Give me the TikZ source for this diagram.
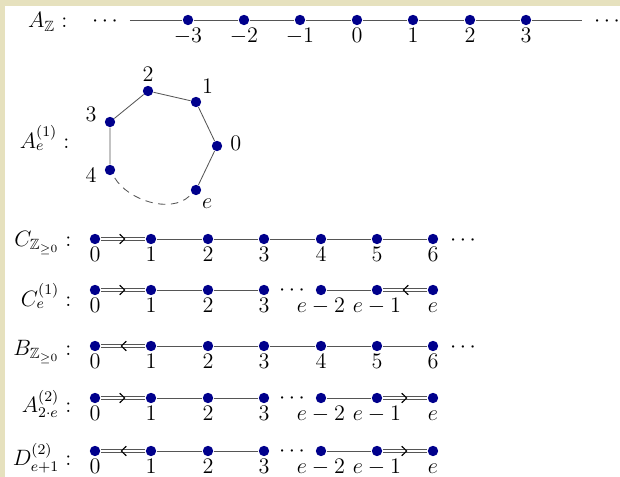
\documentclass[tikz,border=0pt]{standalone}
\usepackage{amssymb}
\usetikzlibrary{decorations.markings}
\definecolor{dotblue}{RGB}{0,0,140}
\definecolor{stripbeige}{RGB}{230,225,190}
\definecolor{edgegray}{RGB}{85,85,85}
\begin{document}
\begin{tikzpicture}[
  x=0.54pt,y=-0.54pt,line width=0.45pt,font=\large,
  dot/.style={circle,fill=dotblue,inner sep=0pt,minimum size=5.6pt},
  every label/.style={inner sep=1pt,text height=1.5ex,text depth=0.25ex},
  label distance=1.5pt,
  etc/.style={inner sep=0pt},
  row name/.style={anchor=east},
  edge/.style={draw=edgegray},
  dbl arrow/.style={draw=edgegray,double,double distance=1.4pt,
    postaction={decorate,decoration={markings,mark=at position 0.5 with {
      \pgfsetlinewidth{0.6pt}\pgfsetstrokecolor{black}
      \pgfpathmoveto{\pgfpoint{-1.8pt}{2.6pt}}
      \pgfpathlineto{\pgfpoint{0.9pt}{0pt}}
      \pgfpathlineto{\pgfpoint{-1.8pt}{-2.6pt}}
      \pgfusepath{stroke}}}}}
]
  \useasboundingbox (0,0) rectangle (620,477);
  \fill[white] (0,0) rectangle (620,477);
  \fill[stripbeige] (0,0) rectangle (620,6);
  \fill[stripbeige] (0,0) rectangle (5,477);

  % A_Z: the two-sided line
  \node[row name] (nz) at (74,22) {$A_{\mathbb{Z}}:$};
  \node[etc] (zdl) at (105,22) {$\cdots$};
  \node[etc] (zdr) at (607,22) {$\cdots$};
  \coordinate (zl) at (130,20);
  \coordinate (zr) at (582,20);
  \foreach \i/\x/\t in {1/188/-3,2/244/-2,3/300/-1,4/357/0,5/413/1,6/470/2,7/526/3}
    \node[dot,label=below:$\t$] (z\i) at (\x,20) {};
  \draw[edge] (zl) -- (z1) -- (z2) -- (z3) -- (z4) -- (z5) -- (z6) -- (z7) -- (zr);

  % A_e^(1): the cycle
  \node[row name] (na) at (76,138) {$A^{(1)}_{e}:$};
  \node[dot,label={[label distance=0pt]above:$2$}] (h2) at (148,91) {};
  \node[dot,label={[label distance=0pt]above right:$1$}] (h1) at (196,102) {};
  \node[dot,label={[label distance=3pt]right:$0$}] (h0) at (217,146) {};
  \node[dot,label={[label distance=0pt]below right:$e$}] (he) at (196,190) {};
  \node[dot,label={[label distance=3pt,yshift=-4pt]left:$4$}] (h4) at (110,170) {};
  \node[dot,label={[label distance=3pt,yshift=3pt]left:$3$}] (h3) at (110,122) {};
  \draw[edge] (he) -- (h0) -- (h1) -- (h2) -- (h3) -- (h4);
  \draw[edge,dashed,dash pattern=on 4pt off 3pt,shorten <=2pt,shorten >=2pt]
    (h4) .. controls (128,200) and (170,214) .. (he);

  % C_{Z>=0}
  \node[row name] (nc) at (78,243) {$C_{\mathbb{Z}_{\geq 0}}:$};
  \foreach \i/\x in {0/95,1/151,2/208,3/264,4/321,5/377,6/433}
    \node[dot,label=below:$\i$] (c\i) at (\x,239) {};
  \node[etc] (cd) at (463,241) {$\cdots$};
  \draw[dbl arrow] (c0) -- (c1);
  \draw[edge] (c1) -- (c2) -- (c3) -- (c4) -- (c5) -- (c6);

  % C_e^(1)
  \node[row name] (nce) at (78,296) {$C^{(1)}_{e}:$};
  \foreach \i/\x/\t in {0/95/0,1/151/1,2/208/2,3/264/3,4/321/e-2,5/377/e-1,6/433/e}
    \node[dot,label=below:$\t$] (k\i) at (\x,290) {};
  \node[etc] (kd) at (292,291) {$\cdots$};
  \draw[dbl arrow] (k0) -- (k1);
  \draw[edge] (k1) -- (k2) -- (k3);
  \draw[edge] (k4) -- (k5);
  \draw[dbl arrow] (k6) -- (k5);

  % B_{Z>=0}
  \node[row name] (nb) at (78,352) {$B_{\mathbb{Z}_{\geq 0}}:$};
  \foreach \i/\x in {0/95,1/151,2/208,3/264,4/321,5/377,6/433}
    \node[dot,label=below:$\i$] (b\i) at (\x,346) {};
  \node[etc] (bd) at (463,348) {$\cdots$};
  \draw[dbl arrow] (b1) -- (b0);
  \draw[edge] (b1) -- (b2) -- (b3) -- (b4) -- (b5) -- (b6);

  % A_{2e}^(2)
  \node[row name] (nt) at (78,404) {$A^{(2)}_{2\cdot e}:$};
  \foreach \i/\x/\t in {0/95/0,1/151/1,2/208/2,3/264/3,4/321/e-2,5/377/e-1,6/433/e}
    \node[dot,label=below:$\t$] (t\i) at (\x,398) {};
  \node[etc] (td) at (292,399) {$\cdots$};
  \draw[dbl arrow] (t0) -- (t1);
  \draw[edge] (t1) -- (t2) -- (t3);
  \draw[edge] (t4) -- (t5);
  \draw[dbl arrow] (t5) -- (t6);

  % D_{e+1}^(2)
  \node[row name] (nd) at (78,458) {$D^{(2)}_{e+1}:$};
  \foreach \i/\x/\t in {0/95/0,1/151/1,2/208/2,3/264/3,4/321/e-2,5/377/e-1,6/433/e}
    \node[dot,label=below:$\t$] (d\i) at (\x,451) {};
  \node[etc] (dd) at (292,452) {$\cdots$};
  \draw[dbl arrow] (d1) -- (d0);
  \draw[edge] (d1) -- (d2) -- (d3);
  \draw[edge] (d4) -- (d5);
  \draw[dbl arrow] (d5) -- (d6);
\end{tikzpicture}
\end{document}
